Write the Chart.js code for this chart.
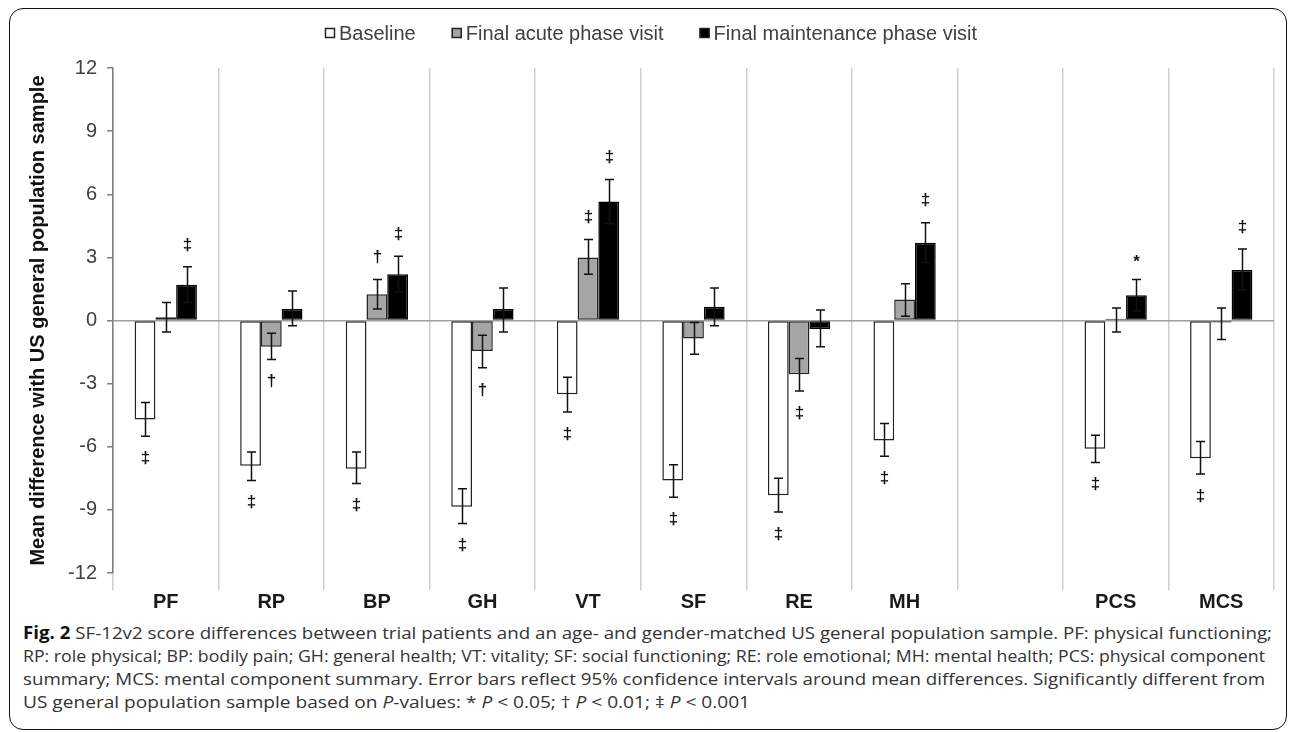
<!DOCTYPE html>
<html>
<head>
<meta charset="utf-8">
<script src="https://cdn.jsdelivr.net/npm/chart.js@4"></script>
<style>
  html, body { margin: 0; padding: 0; background: #fff; }
  body { width: 1292px; height: 732px; position: relative; overflow: hidden; }
  #frame {
    position: absolute; left: 9px; top: 8px; width: 1278px; height: 722px;
    border: 1.5px solid #111; border-radius: 14px; box-sizing: border-box;
  }
  #chart { position: absolute; left: 0; top: 0; }
  .cap {
    position: absolute; left: 23px; white-space: nowrap;
    font-family: "Open Sans", sans-serif; font-size: 17px; color: #333;
    transform-origin: 0 50%; line-height: 20px;
  }
  .cap b { color: #111; }
</style>
</head>
<body>
<div id="frame"></div>
<canvas id="chart" width="1292" height="620"></canvas>
<div class="cap" data-w="1249" style="top:623px"><b>Fig. 2</b> SF-12v2 score differences between trial patients and an age- and gender-matched US general population sample. PF: physical functioning;</div>
<div class="cap" data-w="1242" style="top:646px">RP: role physical; BP: bodily pain; GH: general health; VT: vitality; SF: social functioning; RE: role emotional; MH: mental health; PCS: physical component</div>
<div class="cap" data-w="1242" style="top:669px">summary; MCS: mental component summary. Error bars reflect 95% confidence intervals around mean differences. Significantly different from</div>
<div class="cap" data-w="727" style="top:692px">US general population sample based on <i>P</i>-values: * <i>P</i> &lt; 0.05; † <i>P</i> &lt; 0.01; ‡ <i>P</i> &lt; 0.001</div>
<script>
// categories (the blank slot is the gap between MH and PCS)
const categories = ['PF', 'RP', 'BP', 'GH', 'VT', 'SF', 'RE', 'MH', '', 'PCS', 'MCS']
const seriesNames = ['Baseline', 'Final acute phase visit', 'Final maintenance phase visit']

// mean differences with 95% CI
const baseline = [-4.7, -6.9, -7.05, -8.85, -3.5, -7.6, -8.3, -5.7, null, -6.1, -6.55]
const baselineLow = [-5.5, -7.6, -7.75, -9.65, -4.35, -8.4, -9.1, -6.45, null, -6.75, -7.3]
const baselineHigh = [-3.9, -6.25, -6.25, -8.0, -2.7, -6.85, -7.5, -4.9, null, -5.45, -5.75]
const baselineMarks = ['‡', '‡', '‡', '‡', '‡', '‡', '‡', '‡', '', '‡', '‡']

const acute = [0.15, -1.25, 1.25, -1.45, 3.0, -0.85, -2.55, 1.0, null, 0.08, -0.1]
const acuteLow = [-0.55, -1.85, 0.55, -2.25, 2.2, -1.6, -3.35, 0.2, null, -0.55, -0.9]
const acuteHigh = [0.85, -0.6, 1.95, -0.7, 3.85, -0.1, -1.8, 1.75, null, 0.6, 0.6]
const acuteMarks = ['', '†', '†', '†', '‡', '', '‡', '', '', '', '']

const maintenance = [1.7, 0.55, 2.2, 0.55, 5.65, 0.65, -0.4, 3.7, null, 1.2, 2.4]
const maintenanceLow = [0.85, -0.25, 1.35, -0.55, 4.6, -0.25, -1.25, 2.75, null, 0.45, 1.45]
const maintenanceHigh = [2.55, 1.4, 3.05, 1.55, 6.7, 1.55, 0.5, 4.65, null, 1.95, 3.4]
const maintenanceMarks = ['‡', '', '‡', '', '‡', '', '', '‡', '', '*', '‡']

const yTicks = [-12, -9, -6, -3, 0, 3, 6, 9, 12]

// error bars + significance marks
const errorBars = {
  id: 'errorBars',
  afterDatasetsDraw(chart) {
    const { ctx } = chart
    const y = chart.scales.y
    ctx.save()
    ctx.strokeStyle = '#111'
    ctx.fillStyle = '#111'
    ctx.lineWidth = 1.5
    ctx.font = 'bold 17px "Liberation Sans", Arial, sans-serif'
    ctx.textAlign = 'center'
    ctx.textBaseline = 'middle'
    chart.data.datasets.forEach((ds, i) => {
      chart.getDatasetMeta(i).data.forEach((bar, j) => {
        if (ds.data[j] == null) return
        const x = Math.round(bar.x) + 0.5
        const lo = y.getPixelForValue(ds.low[j])
        const hi = y.getPixelForValue(ds.high[j])
        ctx.beginPath()
        ctx.moveTo(x, lo); ctx.lineTo(x, hi)
        ctx.moveTo(x - 4.5, lo); ctx.lineTo(x + 4.5, lo)
        ctx.moveTo(x - 4.5, hi); ctx.lineTo(x + 4.5, hi)
        ctx.stroke()
        const m = ds.marks[j]
        if (!m) return
        const shift = m === '*' ? 5 : 0
        if (ds.data[j] < 0) ctx.fillText(m, x, lo + 22 + shift)
        else ctx.fillText(m, x, hi - 22 + shift)
      })
    })
    ctx.restore()
  },
}

// legend across the top, built from the datasets
const topLegend = {
  id: 'topLegend',
  afterDraw(chart) {
    const { ctx } = chart
    ctx.save()
    ctx.font = '20px "Liberation Sans", Arial, sans-serif'
    ctx.textBaseline = 'middle'
    let x = 325
    chart.data.datasets.forEach((ds) => {
      ctx.fillStyle = ds.backgroundColor
      ctx.fillRect(x, 28, 10, 10)
      ctx.strokeStyle = '#222'
      ctx.lineWidth = 1.5
      ctx.strokeRect(x + 0.5, 28.5, 9, 9)
      ctx.fillStyle = '#404040'
      ctx.fillText(ds.label, x + 14, 34)
      x += 14 + ctx.measureText(ds.label).width + 36
    })
    ctx.restore()
  },
}

new Chart(document.getElementById('chart'), {
  type: 'bar',
  data: {
    labels: categories,
    datasets: [
      { label: seriesNames[0], data: baseline, low: baselineLow, high: baselineHigh, marks: baselineMarks,
        backgroundColor: '#ffffff', borderColor: '#222', borderWidth: 1.5 },
      { label: seriesNames[1], data: acute, low: acuteLow, high: acuteHigh, marks: acuteMarks,
        backgroundColor: '#a5a5a5', borderColor: '#222', borderWidth: 1.5 },
      { label: seriesNames[2], data: maintenance, low: maintenanceLow, high: maintenanceHigh, marks: maintenanceMarks,
        backgroundColor: '#000000', borderColor: '#000', borderWidth: 1.5 },
    ],
  },
  options: {
    responsive: false,
    animation: false,
    devicePixelRatio: 1,
    categoryPercentage: 0.59,
    barPercentage: 1,
    borderSkipped: false,
    layout: { padding: { left: 0, right: 18, top: 68, bottom: 0 } },
    plugins: { legend: { display: false }, tooltip: { enabled: false } },
    scales: {
      x: {
        afterFit: (s) => { s.height = 47 },
        border: { display: false },
        grid: { color: '#cfcfcf', lineWidth: 1.5, tickLength: 17, offset: true },
        ticks: {
          padding: 0,
          color: '#1a1a1a',
          font: { family: '"Liberation Sans", Arial, sans-serif', size: 20, weight: 'bold' },
        },
      },
      y: {
        min: -12,
        max: 12,
        afterFit: (s) => { s.width = 113 },
        afterBuildTicks: (s) => { s.ticks = yTicks.map((v) => ({ value: v })) },
        border: { display: true, color: '#7f7f7f', width: 1.5 },
        grid: {
          color: (c) => (c.tick && c.tick.value === 0 ? '#a0a0a0' : 'rgba(0,0,0,0)'),
          tickColor: '#7f7f7f',
          lineWidth: 1.5,
          tickLength: 6,
        },
        ticks: {
          padding: 10,
          color: '#404040',
          font: { family: '"Liberation Sans", Arial, sans-serif', size: 20 },
        },
        title: {
          display: true,
          text: 'Mean difference with US general population sample',
          color: '#111',
          padding: { top: 26, bottom: 0 },
          font: { family: '"Liberation Sans", Arial, sans-serif', size: 20, weight: 'bold' },
        },
      },
    },
  },
  plugins: [errorBars, topLegend],
})

// squeeze caption lines to the widths they have in the figure
document.querySelectorAll('.cap').forEach((el) => {
  const w = el.getBoundingClientRect().width
  el.style.transform = 'scaleX(' + (+el.dataset.w / w) + ')'
})
</script>
</body>
</html>
